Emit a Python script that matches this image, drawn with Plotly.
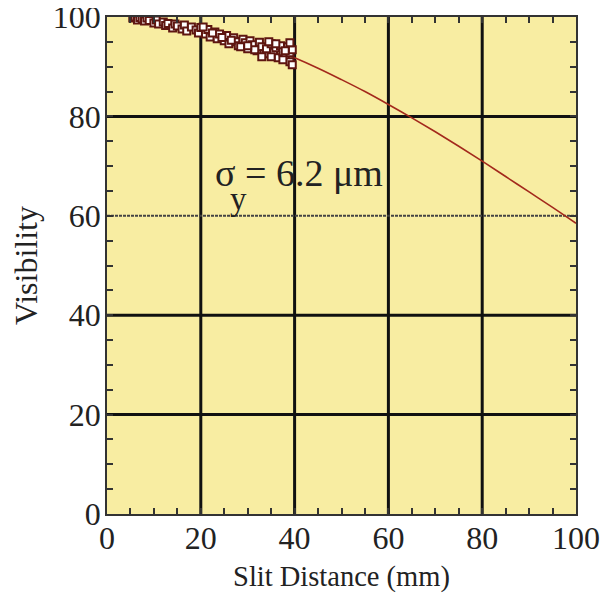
import plotly.graph_objects as go

# Fitted curve
curve_x = [5, 10, 15, 20, 25, 30, 35, 40, 45, 50, 55, 60, 65, 70, 75, 80, 85, 90, 95, 100]
curve_y = [99.9, 99.5, 98.9, 97.9, 96.7, 95.3, 93.7, 91.8, 89.7, 87.4, 85.0, 82.4, 79.7, 76.9, 74.0, 71.0, 67.9, 64.8, 61.7, 58.5]

data_x = [5.5, 6.0, 6.5, 7.0, 7.5, 8.0, 8.5, 9.0, 10.0, 10.5, 11.0, 12.0, 12.5, 13.0, 14.0, 14.5,
          15.0, 16.0, 16.5, 17.0, 18.0, 19.0, 19.5, 20.0, 21.0, 21.5, 22.0, 23.0, 23.5, 24.0,
          25.0, 25.5, 26.0, 27.0, 27.5, 28.0, 29.0, 29.5, 30.0, 30.5, 31.0, 32.0, 32.5, 33.0,
          33.5, 34.0, 35.0, 35.5, 36.0, 36.5, 37.0, 37.5, 38.0, 38.5, 39.0, 39.0, 39.5, 39.5,
          20.5, 22.5, 24.5, 26.5, 28.5, 31.5, 34.5, 36.0, 37.5, 39.0, 33.0, 30.0, 35.0, 38.0]
data_y = [99.8, 100.0, 99.4, 99.9, 99.6, 99.2, 99.8, 99.3, 98.8, 99.4, 98.6, 99.0, 98.3, 98.7, 97.8, 98.6,
          98.2, 97.6, 98.4, 97.2, 98.0, 97.4, 96.8, 97.9, 96.6, 97.5, 96.0, 97.0, 95.6, 96.6,
          95.2, 96.3, 94.6, 95.8, 95.0, 94.2, 95.5, 94.8, 93.6, 95.2, 94.4, 93.2, 94.9, 94.0,
          92.6, 93.6, 94.6, 92.9, 93.8, 91.8, 94.2, 93.0, 92.2, 94.0, 91.0, 92.8, 90.4, 93.4,
          98.0, 96.8, 95.9, 95.3, 94.0, 93.4, 95.0, 94.6, 91.4, 94.8, 92.0, 94.2, 92.0, 93.2]

x_ticks = [0, 20, 40, 60, 80, 100]
y_ticks = [0, 20, 40, 60, 80, 100]
solid_grid_x = [20, 40, 60, 80]
solid_grid_y = [20, 40, 80]
dotted_grid_y = [60]

fig = go.Figure()
fig.add_trace(go.Scatter(x=curve_x, y=curve_y, mode="lines", line_shape="spline",
                         line=dict(color="#a3291c", width=1.6), showlegend=False))
fig.add_trace(go.Scatter(x=data_x, y=data_y, mode="markers",
                         marker=dict(symbol="square", size=7, color="white",
                                     line=dict(color="#5e1610", width=2)),
                         showlegend=False))

shapes = []
for gx in solid_grid_x:
    shapes.append(dict(type="line", xref="x", yref="paper", x0=gx, x1=gx, y0=0, y1=1,
                       line=dict(color="#111111", width=3), layer="below"))
for gy in solid_grid_y:
    shapes.append(dict(type="line", xref="paper", yref="y", x0=0, x1=1, y0=gy, y1=gy,
                       line=dict(color="#111111", width=3), layer="below"))
for gy in dotted_grid_y:
    shapes.append(dict(type="line", xref="paper", yref="y", x0=0, x1=1, y0=gy, y1=gy,
                       line=dict(color="#444444", width=2, dash="3px,1px"), layer="below"))

font_family = "Liberation Serif, Times New Roman, serif"
tick_font = dict(size=32, family=font_family, color="#222222")

fig.update_layout(
    width=603, height=585,
    margin=dict(l=99, r=35, t=9, b=79),
    paper_bgcolor="white",
    plot_bgcolor="#f8eda2",
    shapes=shapes,
    font=dict(family=font_family, color="#222222"),
    xaxis=dict(range=[0, 100], tickvals=x_ticks, ticktext=[str(v) for v in x_ticks], automargin=False,
               showgrid=False, zeroline=False, showline=True, linecolor="#333333", linewidth=1.5,
               mirror="allticks", ticks="inside", ticklen=0, tickcolor="#333333",
               ticklabeloverflow="allow", ticklabelstandoff=-5,
               minor=dict(dtick=5, ticks="inside", ticklen=6, tickcolor="#333333", tickwidth=1.5, showgrid=False),
               tickfont=tick_font,
               title=dict(text="Slit Distance (mm)", font=dict(size=28.5, family=font_family, color="#222222"), standoff=12)),
    yaxis=dict(range=[0, 100], tickvals=y_ticks, ticktext=[str(v) for v in y_ticks], automargin=False,
               showgrid=False, zeroline=False, showline=True, linecolor="#333333", linewidth=1.5,
               mirror="allticks", ticks="inside", ticklen=0, tickcolor="#333333",
               ticklabeloverflow="allow", ticklabelstandoff=-2,
               minor=dict(dtick=5, ticks="inside", ticklen=6, tickcolor="#333333", tickwidth=1.5, showgrid=False),
               tickfont=tick_font,
               title=dict(text="Visibility", font=dict(size=32, family=font_family, color="#222222"), standoff=20)),
    annotations=[
        dict(x=22.5, y=68.6, xref="x", yref="y", text="σ = 6.2 μm", showarrow=False, xanchor="left",
             font=dict(size=38, family=font_family, color="#222222")),
        dict(x=25.7, y=63.3, xref="x", yref="y", text="y", showarrow=False, xanchor="left",
             font=dict(size=33, family=font_family, color="#222222")),
    ],
)

fig.write_html("out.html")
